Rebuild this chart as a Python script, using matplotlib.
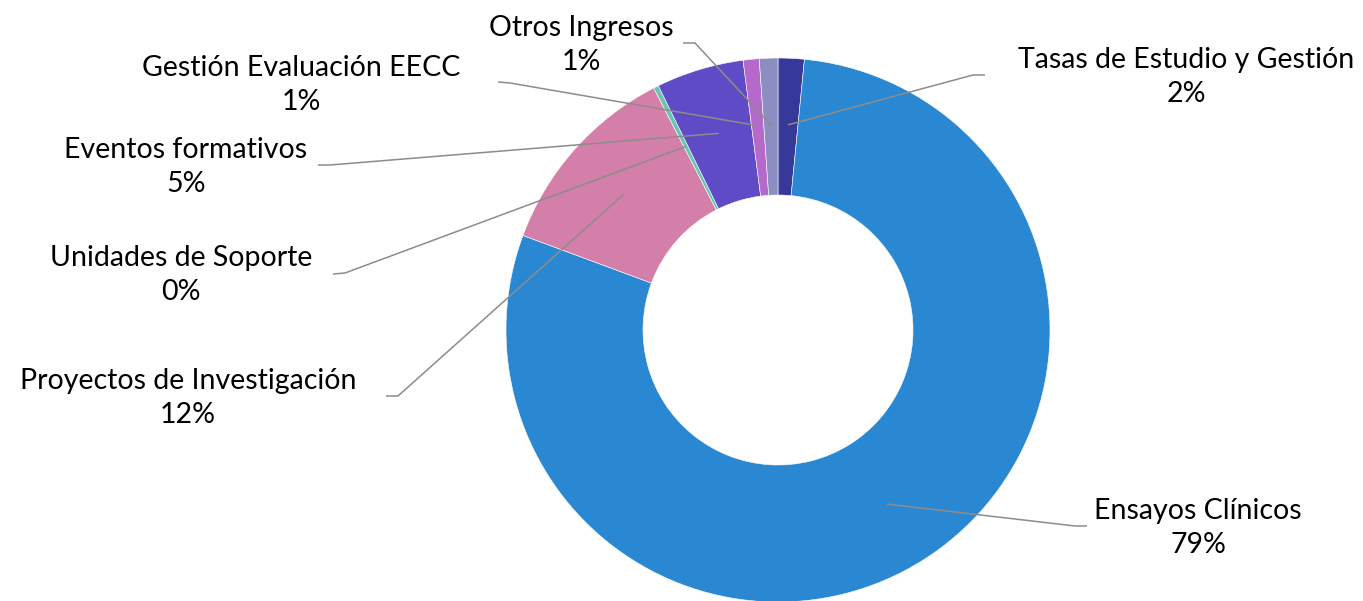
import matplotlib
matplotlib.use('Agg')
import matplotlib.pyplot as plt
import numpy as np

plt.rcParams['font.family'] = ['Lato', 'DejaVu Sans']

# data, clockwise from 12 o'clock
categories = ['Tasas de Estudio y Gestión', 'Ensayos Clínicos', 'Proyectos de Investigación',
              'Unidades de Soporte', 'Eventos formativos', 'Gestión Evaluación EECC', 'Otros Ingresos']
values = [1.55, 79.1, 11.8, 0.3, 5.2, 0.95, 1.1]
colors = ['#36399A', '#2A88D3', '#D47EAA', '#6AC4B2', '#604BC6', '#B569CA', '#8C8DC0']

W, H = 1363, 601
# label layout in image pixels (x, y from top): text centre, hook end, elbow
text_pos = [(1186, 77), (1198, 528), (188, 398), (181, 275), (186, 167), (301, 85), (581, 45)]
hook = [(985, 75), (1087, 526), (386, 396), (333, 274), (318, 165), (498, 82), (683, 43)]
elbow = [(973, 75), (1075, 526), (398, 396), (345, 273), (330, 165), (510, 83), (695, 43)]

fig = plt.figure(figsize=(W / 100, H / 100), dpi=100)
ax = fig.add_axes([0, 0, 1, 1])

cx, cy, r = 778, H - 330, 272
wedges, _ = ax.pie(values, colors=colors, startangle=90, counterclock=False,
                   radius=r, center=(cx, cy),
                   wedgeprops=dict(width=137, edgecolor='white', linewidth=0.4))
ax.set_xlim(0, W)
ax.set_ylim(0, H)
ax.axis('off')

total = sum(values)
for w, name, v, tp, hk, el in zip(wedges, categories, values, text_pos, hook, elbow):
    ang = np.deg2rad((w.theta1 + w.theta2) / 2)
    ax_, ay_ = cx + 0.755 * r * np.cos(ang), cy + 0.755 * r * np.sin(ang)
    ax.plot([ax_, el[0], hk[0]], [ay_, H - el[1], H - hk[1]], color='#8C8C8C', lw=1.1,
            solid_capstyle='butt')
    ax.text(tp[0], H - tp[1], f'{name}\n{round(v / total * 100):.0f}%', ha='center', va='center',
            fontsize=20.5, color='#000000', linespacing=1.4)

fig.savefig('out.png', dpi=100)
